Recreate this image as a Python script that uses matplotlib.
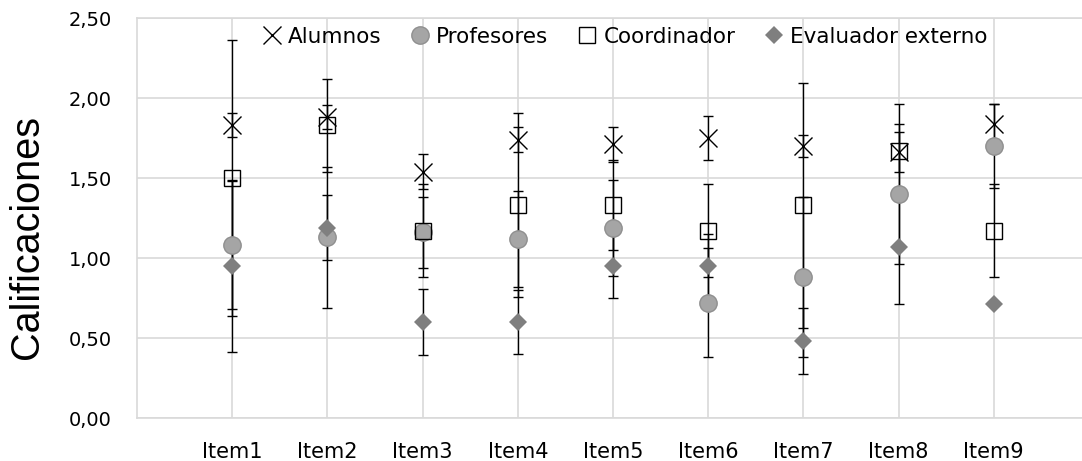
import numpy as np
import matplotlib.pyplot as plt

# Data
items = ["Item1", "Item2", "Item3", "Item4", "Item5", "Item6", "Item7", "Item8", "Item9"]

alumnos = [1.83, 1.88, 1.54, 1.74, 1.71, 1.75, 1.70, 1.66, 1.84]
alumnos_err = [0.075, 0.075, 0.11, 0.08, 0.11, 0.14, 0.07, 0.125, 0.12]

profesores = [1.08, 1.13, 1.16, 1.12, 1.19, 0.72, 0.88, 1.40, 1.70]
profesores_err = [0.40, 0.44, 0.22, 0.30, 0.30, 0.34, 0.50, 0.44, 0.26]

coordinador = [1.50, 1.83, 1.17, 1.33, 1.33, 1.17, 1.33, 1.67, 1.17]
coordinador_err = [0.86, 0.29, 0.29, 0.575, 0.28, 0.29, 0.765, 0.29, 0.29]

evaluador = [0.95, 1.19, 0.60, 0.60, 0.95, 0.95, 0.48, 1.07, 0.71]
evaluador_err = [0.54, 0.205, 0.205, 0.20, 0.20, 0.20, 0.205, 0.36, 0.0]

yticks = [0.0, 0.5, 1.0, 1.5, 2.0, 2.5]

x = np.arange(1, len(items) + 1)

fig = plt.figure(figsize=(10.82, 4.61), dpi=100)
ax = fig.add_axes([137 / 1082, 1 - 418 / 461, 952 / 1082, 400 / 461])

grid_c = "#D9D9D9"

# error bars first (under the markers)
for vals, errs in [(alumnos, alumnos_err), (profesores, profesores_err),
                   (coordinador, coordinador_err), (evaluador, evaluador_err)]:
    ax.errorbar(x, vals, yerr=errs, fmt="none", ecolor="black", elinewidth=1,
                capsize=3.8, capthick=1, zorder=2)

ax.plot(x, alumnos, "x", color="black", markersize=13, mew=1, label="Alumnos", zorder=3)
ax.plot(x, profesores, "o", color="#A5A5A5", mec="#8F8F8F", markersize=12.5, mew=1,
        label="Profesores", zorder=4)
ax.plot(x, coordinador, "s", mfc="none", mec="black", markersize=12, mew=1,
        label="Coordinador", zorder=5)
ax.plot(x, evaluador, "D", color="#7F7F7F", markersize=9, mew=0,
        label="Evaluador externo", zorder=6)

ax.set_xlim(0, 10)
ax.set_ylim(0, 2.5)
ax.set_xticks(x)
ax.set_xticklabels(items, fontsize=15)
ax.set_yticks(yticks)
ax.set_yticklabels([f"{v:.2f}".replace(".", ",") for v in yticks], fontsize=14)
ax.tick_params(axis="both", length=0)
ax.tick_params(axis="x", pad=17)
ax.tick_params(axis="y", pad=18)

ax.set_axisbelow(True)
ax.grid(True, color=grid_c, linewidth=1.2)
for s in ax.spines.values():
    s.set_color(grid_c)
    s.set_linewidth(1.2)

fig.text(27 / 1082, 1 - 237 / 461, "Calificaciones", rotation=90, fontsize=28.5,
         family="Liberation Sans", ha="center", va="center")

ax.legend(loc="upper center", bbox_to_anchor=(489 / 952, 1.0), ncol=4, frameon=False,
          fontsize=15.5, handlelength=0.7, handletextpad=0.4, columnspacing=1.45,
          borderaxespad=0.0, numpoints=1)

fig.savefig("out.png", dpi=100)
